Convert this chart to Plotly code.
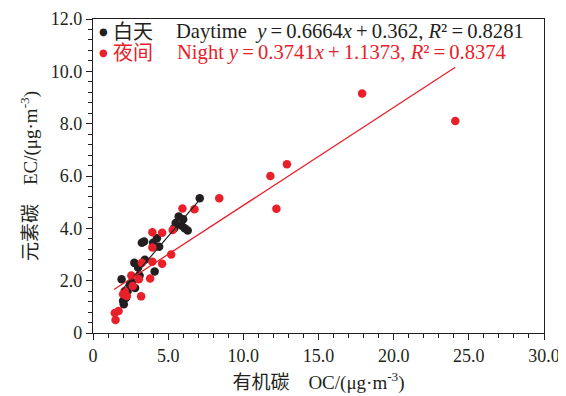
import plotly.graph_objects as go

# ---- data ----
day_oc = [7.1, 6.0, 5.7, 5.9, 6.3, 6.1, 5.4, 5.5, 4.25, 4.0, 3.25, 3.4, 4.4, 3.45, 2.75,
          4.1, 3.0, 1.9, 2.45, 2.8, 2.3, 2.0, 2.05, 2.2, 2.6, 3.1]
day_ec = [5.15, 4.35, 4.45, 4.1, 3.92, 4.0, 4.0, 4.2, 3.62, 3.45, 3.45, 3.5, 3.3, 2.8, 2.68,
          2.35, 2.5, 2.05, 1.85, 1.72, 1.6, 1.22, 1.1, 1.35, 1.95, 2.2]
night_oc = [24.1, 17.9, 12.9, 11.8, 12.2, 8.4, 5.95, 6.75, 5.3, 3.95, 4.6, 3.95, 5.2, 3.95,
            4.6, 3.25, 2.55, 3.8, 3.05, 2.0, 2.25, 3.2, 2.65, 1.45, 1.7, 1.5, 2.1]
night_ec = [8.1, 9.15, 6.45, 6.0, 4.75, 5.15, 4.76, 4.73, 3.94, 3.85, 3.83, 3.27, 3.0, 2.72,
            2.65, 2.68, 2.2, 2.08, 2.05, 1.48, 1.41, 1.4, 1.8, 0.76, 0.84, 0.5, 1.6]
day_fit = (0.6664, 0.362)
night_fit = (0.3741, 1.1373)
day_fit_range = [1.9, 7.1]
night_fit_range = [1.4, 24.1]
x_ticks = [0, 5, 10, 15, 20, 25, 30]
x_ticktext = ["0", "5.0", "10.0", "15.0", "20.0", "25.0", "30.0"]
y_ticks = [0, 2, 4, 6, 8, 10, 12]
y_ticktext = ["0", "2.0", "4.0", "6.0", "8.0", "10.0", "12.0"]

BLACK = "#231f20"
RED = "#e8202a"
FONT = "Liberation Serif, Noto Sans CJK SC, serif"
TS = "\u2009"  # thin space

fig = go.Figure()
fig.add_trace(go.Scatter(x=day_oc, y=day_ec, mode="markers",
                         marker=dict(color=BLACK, size=8.5), showlegend=False))
fig.add_trace(go.Scatter(x=night_oc, y=night_ec, mode="markers",
                         marker=dict(color=RED, size=8.5), showlegend=False))
fig.add_trace(go.Scatter(x=day_fit_range,
                         y=[day_fit[0] * v + day_fit[1] for v in day_fit_range],
                         mode="lines", line=dict(color=BLACK, width=1.2), showlegend=False))
fig.add_trace(go.Scatter(x=night_fit_range,
                         y=[night_fit[0] * v + night_fit[1] for v in night_fit_range],
                         mode="lines", line=dict(color=RED, width=1.3), showlegend=False))

# page body has an 8px margin; size the figure to fit the window
OFF = 8
W, H = 566 - OFF, 396 - OFF
L, T = 93 - OFF, 19 - OFF
R = W - (544 - OFF)
B = H - (333 - OFF)
pw, ph = W - L - R, H - T - B


def px(x):
    return (x - OFF - L) / pw


def py(y):
    return (H - B - (y - OFF)) / ph


anns = []
rows = [(32, BLACK, "白天", 176,
         f"Daytime\u00a0 <i>y</i>{TS}={TS}0.6664<i>x</i>{TS}+{TS}0.362, <i>R</i>²{TS}={TS}0.8281"),
        (53, RED, "夜间", 177,
         f"Night <i>y</i>{TS}={TS}0.3741<i>x</i>{TS}+{TS}1.1373, <i>R</i>²{TS}={TS}0.8374")]
for yy, col, cn, ex, en in rows:
    anns.append(dict(x=px(103), y=py(yy), xref="paper", yref="paper", text="●",
                     showarrow=False, xanchor="center", yanchor="middle",
                     font=dict(size=10, color=col, family="DejaVu Sans")))
    anns.append(dict(x=px(111), y=py(yy), xref="paper", yref="paper", text=cn,
                     showarrow=False, xanchor="left", yanchor="middle",
                     font=dict(size=20, color=col, family=FONT)))
    anns.append(dict(x=px(ex - 2), y=py(yy), xref="paper", yref="paper", text=en,
                     showarrow=False, xanchor="left", yanchor="middle",
                     font=dict(size=20.6, color=col, family=FONT)))

fig.update_layout(
    width=W, height=H,
    margin=dict(l=L, r=R, t=T, b=B),
    plot_bgcolor="white", paper_bgcolor="white",
    font=dict(family=FONT, size=18, color=BLACK),
    annotations=anns,
    xaxis=dict(range=[0, 30], tickvals=x_ticks, ticktext=x_ticktext, automargin=False,
               showgrid=False, zeroline=False, showline=True, linecolor=BLACK,
               linewidth=1.2, mirror=True, ticks="outside", ticklen=6, tickcolor=BLACK,
               minor=dict(dtick=1, ticks="outside", ticklen=4, tickcolor=BLACK),
               title=dict(text="有机碳\u00a0\u00a0\u00a0\u00a0OC/(μg·m<sup>-3</sup>)",
                          font=dict(size=19), standoff=10)),
    yaxis=dict(range=[0, 12], tickvals=y_ticks, ticktext=y_ticktext, automargin=False,
               showgrid=False, zeroline=False, showline=True, linecolor=BLACK,
               linewidth=1.2, mirror=True, ticks="outside", ticklen=6, tickcolor=BLACK,
               minor=dict(dtick=0.4, ticks="outside", ticklen=4, tickcolor=BLACK),
               title=dict(text="元素碳\u00a0\u00a0\u00a0\u00a0EC/(μg·m<sup>-3</sup>)",
                          font=dict(size=19), standoff=8)),
)

fig.write_html("out.html")
